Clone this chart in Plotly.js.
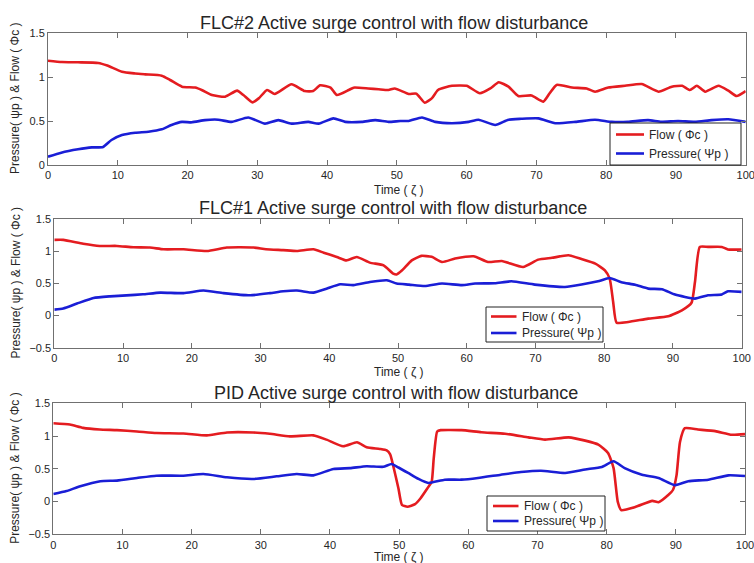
<!DOCTYPE html>
<html>
<head>
<meta charset="utf-8">
<script src="https://cdn.plot.ly/plotly-3.0.1.min.js"></script>
<style>
  html, body { margin: 0; padding: 0; background: #fff; }
  #chart { width: 754px; height: 563px; }
</style>
</head>
<body>
<div id="chart"></div>
<script>
// ---- FLC#2 controller ----
const flc2FlowT = [0,2,4.3,7.2,8.5,10.6,12.5,13.9,16.3,17.5,19.2,21.1,22.1,23.5,25.4,27.1,28,29.3,30.2,31.4,32.5,34.9,36.8,38,39,40.5,41.4,43.1,43.8,45.9,47.4,48.8,49.7,51.7,52.8,54,55,55.9,57.9,60,61.9,63.4,64.6,66,67.4,69.3,71,71.9,72.9,75.1,77.2,78.4,80.3,82.7,85.1,87.5,89.4,90.9,92,93,94.2,96.1,97.5,98.7,100];
const flc2FlowV = [1.185,1.17,1.167,1.16,1.13,1.06,1.04,1.03,1.015,0.966,0.89,0.88,0.85,0.795,0.776,0.845,0.795,0.712,0.757,0.852,0.807,0.917,0.84,0.84,0.905,0.88,0.795,0.852,0.879,0.87,0.86,0.852,0.87,0.807,0.81,0.708,0.757,0.852,0.9,0.9,0.815,0.87,0.94,0.89,0.784,0.79,0.72,0.815,0.91,0.88,0.87,0.833,0.88,0.9,0.92,0.833,0.89,0.9,0.852,0.9,0.833,0.9,0.845,0.784,0.84];
const flc2PresT = [0,1.9,4.3,6.3,7.9,9.1,10.6,12.5,14.4,16.3,17.7,19.2,20.6,22.5,24.4,26.3,28.7,31.1,33,34.9,37.3,38.8,40.9,42.6,45,46.9,48.8,50.5,51.7,53.6,55.5,57.9,60.3,61.7,64.1,66,67.8,70.3,72.7,75.6,78.4,80.8,83.1,86,87.9,90.3,92.7,95.1,97.5,100];
const flc2PresV = [0.095,0.14,0.178,0.2,0.205,0.284,0.34,0.367,0.378,0.405,0.455,0.49,0.485,0.51,0.515,0.49,0.54,0.47,0.51,0.47,0.49,0.47,0.53,0.49,0.49,0.51,0.49,0.5,0.5,0.54,0.49,0.475,0.49,0.515,0.455,0.515,0.525,0.53,0.475,0.49,0.515,0.49,0.49,0.51,0.49,0.5,0.49,0.51,0.52,0.49];

// ---- FLC#1 controller ----
const flc1FlowT = [0,1.3,4.2,6.6,9.1,11.5,13.9,15.9,18.8,22.2,25.1,29,30.8,33.3,35.3,37.7,39.2,41.1,42.5,44,45.9,47.9,49.3,49.8,50.6,52,53.4,54.9,56.4,58.3,61,63.1,65.1,68.2,70.4,72.4,74.8,76.7,78.7,80.1,80.8,81.3,81.8,83.5,86.4,89.3,91.3,92.7,93.2,93.9,95.1,97.1,98,100];
const flc1FlowV = [1.18,1.18,1.12,1.085,1.085,1.065,1.06,1.033,1.033,1.006,1.06,1.06,1.033,1.02,1.006,1.033,0.98,0.913,0.86,0.913,0.825,0.783,0.654,0.64,0.705,0.86,0.93,0.915,0.835,0.888,0.924,0.835,0.85,0.757,0.872,0.9,0.94,0.88,0.81,0.705,0.576,0.212,-0.11,-0.1,-0.047,-0.01,0.083,0.2,0.523,1.07,1.07,1.07,1.03,1.03];
const flc1PresT = [0,1.3,3.3,5.7,8.1,10.5,12.9,15.4,18.8,21.7,24.6,28.5,31.4,33.3,35.3,37.7,39.6,41.6,43.5,45.9,48.4,49.8,51.6,53.9,56.4,59.3,61.2,64.1,66.5,69.9,74.3,76.7,79.1,80.8,82.5,84.5,86.4,88.4,90.3,93.2,95.1,97.1,98,100];
const flc1PresV = [0.093,0.11,0.187,0.275,0.3,0.315,0.332,0.358,0.35,0.39,0.35,0.316,0.35,0.378,0.39,0.358,0.42,0.488,0.475,0.523,0.55,0.5,0.483,0.46,0.5,0.475,0.5,0.505,0.534,0.483,0.446,0.483,0.534,0.586,0.52,0.48,0.42,0.41,0.327,0.265,0.316,0.33,0.378,0.37];

// ---- PID controller ----
const pidFlowT = [0,2.4,4.3,6.7,9.2,12.1,14.9,18.8,22.2,25.1,28.9,31.3,34.2,37.6,39.5,41.9,43.9,45.3,47.2,48.2,48.7,49.2,49.9,50.4,51.2,52.3,53.1,54.2,54.7,55,55.5,56,59,61.9,65.3,68.7,71.1,74.5,76.9,78.8,80.2,81,81.6,82.1,84.2,86.6,87.5,88.9,89.6,90.1,90.6,91.3,93.2,95.7,98.1,100];
const pidFlowV = [1.195,1.175,1.125,1.1,1.09,1.07,1.047,1.04,1.01,1.055,1.055,1.035,0.995,1.01,0.945,0.844,0.905,0.83,0.803,0.78,0.72,0.52,0.2,-0.05,-0.08,-0.04,0.05,0.22,0.3,0.66,1.07,1.09,1.09,1.058,1.035,0.98,0.945,0.98,0.93,0.87,0.742,0.51,0,-0.13,-0.08,0.01,-0.01,0.1,0.18,0.4,0.91,1.12,1.1,1.075,1.02,1.03];
const pidPresT = [0,1.9,3.9,6.8,9.2,12.1,14.9,18.8,21.7,25.1,28.9,32.3,35.2,37.6,40.5,42.9,45.3,47.7,48.9,49.9,51.3,52.8,54.2,56.6,59,61.4,64.7,67.6,70.5,74,76.9,79.3,81,82.6,85.1,87.5,89.9,91.8,94.7,97.6,100];
const pidPresV = [0.115,0.16,0.234,0.31,0.32,0.36,0.395,0.395,0.42,0.37,0.345,0.385,0.42,0.4,0.497,0.51,0.54,0.53,0.574,0.52,0.437,0.345,0.284,0.334,0.334,0.36,0.41,0.45,0.47,0.437,0.49,0.528,0.615,0.51,0.41,0.36,0.25,0.31,0.334,0.4,0.39];

// ---- text ----
const panelTitles = [
  'FLC#2 Active surge control with flow disturbance',
  'FLC#1 Active surge control with flow disturbance',
  'PID Active surge control with flow disturbance'
];
const flowName = 'Flow ( \u03A6c )';
const presName = 'Pressure( \u03A8p )';
const yLabel = 'Pressure( \u03C8p ) & Flow ( \u03A6c )';
const xLabel = 'Time ( \u03B6 )';

const FONT = 'Liberation Sans, Arial, Helvetica, sans-serif';
const TEXT = '#262626';
const RED = 'rgb(228,28,32)';
const BLUE = 'rgb(26,30,214)';
const W = 754, H = 563;

// panel boxes in pixels: [left, right, top, bottom]
const boxes = [
  [48, 745.7, 33, 165],
  [54.3, 741.7, 219.3, 347.7],
  [53.3, 745, 403.3, 534.3]
];
const yRanges = [[0, 1.5], [-0.5, 1.5], [-0.5, 1.5]];
const titleCenters = [[393.5, 22.7], [393, 208.3], [396, 393.3]];
const xLabelY = [190, 371.5, 557];

// key boxes in pixels: [left, right, top, bottom, sampleStart, sampleEnd, row1Y, row2Y]
const keyBoxes = [
  [610, 741, 123, 165, 616, 644, 134.5, 153.5],
  [486, 603, 307, 342, 491, 516.5, 316.5, 333],
  [487, 605, 496, 531, 493, 518.5, 506, 521]
];

const series = [
  [flc2FlowT, flc2FlowV, flc2PresT, flc2PresV],
  [flc1FlowT, flc1FlowV, flc1PresT, flc1PresV],
  [pidFlowT, pidFlowV, pidPresT, pidPresV]
];

const px = v => v / W;
const py = v => 1 - v / H;

const traces = [];
const layout = {
  width: W, height: H,
  margin: {l: 0, r: 0, t: 0, b: 0},
  paper_bgcolor: '#fff', plot_bgcolor: '#fff',
  font: {family: FONT, color: TEXT, size: 12},
  showlegend: false,
  annotations: [],
  shapes: []
};

series.forEach((s, i) => {
  const sfx = i === 0 ? '' : String(i + 1);
  const xa = 'x' + sfx, ya = 'y' + sfx;
  traces.push({
    x: s[0], y: s[1], xaxis: xa, yaxis: ya, type: 'scatter', mode: 'lines',
    name: flowName, line: {color: RED, width: 2.6, shape: 'spline', smoothing: 0.5}
  });
  traces.push({
    x: s[2], y: s[3], xaxis: xa, yaxis: ya, type: 'scatter', mode: 'lines',
    name: presName, line: {color: BLUE, width: 2.6, shape: 'spline', smoothing: 0.5}
  });

  const b = boxes[i];
  const axisStyle = {
    showline: true, linecolor: '#707070', linewidth: 1, mirror: 'ticks',
    ticks: 'inside', ticklen: 5, tickcolor: '#707070',
    showgrid: false, zeroline: false, automargin: false,
    ticklabeloverflow: 'allow',
    tickfont: {family: FONT, size: 11, color: TEXT}
  };
  layout['xaxis' + sfx] = Object.assign({}, axisStyle, {
    domain: [px(b[0]), px(b[1])], anchor: ya, range: [0, 100], dtick: 10, tick0: 0
  });
  layout['yaxis' + sfx] = Object.assign({}, axisStyle, {
    domain: [py(b[3]), py(b[2])], anchor: xa, range: yRanges[i], dtick: 0.5, tick0: 0
  });

  // panel title and axis titles
  layout.annotations.push({
    text: panelTitles[i], xref: 'paper', yref: 'paper',
    x: px(titleCenters[i][0]), y: py(titleCenters[i][1]),
    xanchor: 'center', yanchor: 'middle', showarrow: false,
    font: {family: FONT, size: 18, color: TEXT}
  });
  layout.annotations.push({
    text: xLabel, xref: 'paper', yref: 'paper',
    x: px(399), y: py(xLabelY[i]),
    xanchor: 'center', yanchor: 'middle', showarrow: false,
    font: {family: FONT, size: 12, color: TEXT}
  });
  layout.annotations.push({
    text: yLabel, xref: 'paper', yref: 'paper', textangle: -90,
    x: px(15), y: py((b[2] + b[3]) / 2),
    xanchor: 'center', yanchor: 'middle', showarrow: false,
    font: {family: FONT, size: 12, color: TEXT}
  });

  // compact boxed key for the two series of this panel
  const k = keyBoxes[i];
  layout.shapes.push({
    type: 'rect', xref: 'paper', yref: 'paper', layer: 'above',
    x0: px(k[0]), x1: px(k[1]), y0: py(k[3]), y1: py(k[2]),
    fillcolor: '#fff', line: {color: '#222', width: 1}
  });
  [[k[6], RED, flowName], [k[7], BLUE, presName]].forEach(([ry, col, label]) => {
    layout.shapes.push({
      type: 'line', xref: 'paper', yref: 'paper', layer: 'above',
      x0: px(k[4]), x1: px(k[5]), y0: py(ry), y1: py(ry),
      line: {color: col, width: 2.6}
    });
    layout.annotations.push({
      text: label, xref: 'paper', yref: 'paper',
      x: px(k[5] + 3), y: py(ry), xanchor: 'left', yanchor: 'middle',
      showarrow: false, font: {family: FONT, size: 12, color: TEXT}
    });
  });
});

Plotly.newPlot('chart', traces, layout, {displayModeBar: false, responsive: false});
</script>
</body>
</html>
